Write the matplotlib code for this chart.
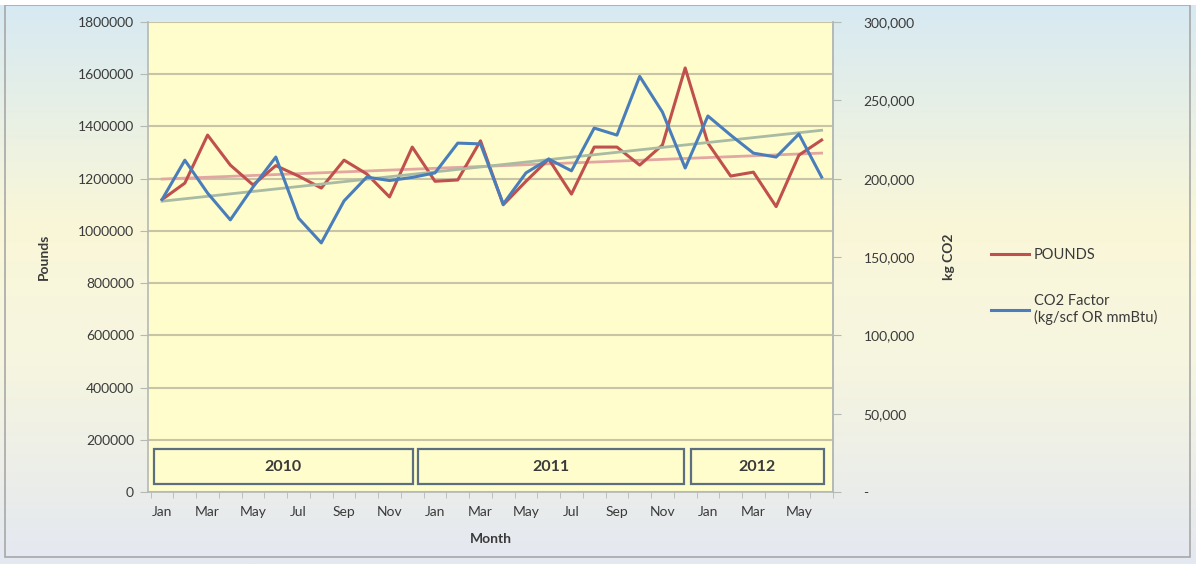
import numpy as np
import matplotlib
matplotlib.use('Agg')
import matplotlib.pyplot as plt
from matplotlib.patches import Rectangle
from matplotlib.colors import LinearSegmentedColormap
from matplotlib.lines import Line2D
from matplotlib.ticker import FuncFormatter

plt.rcParams['font.family'] = ['Lato', 'DejaVu Sans']

# ---- data ----
months = ['Jan', 'Feb', 'Mar', 'Apr', 'May', 'Jun', 'Jul', 'Aug', 'Sep', 'Oct', 'Nov', 'Dec',
          'Jan', 'Feb', 'Mar', 'Apr', 'May', 'Jun', 'Jul', 'Aug', 'Sep', 'Oct', 'Nov', 'Dec',
          'Jan', 'Feb', 'Mar', 'Apr', 'May', 'Jun']
years = ['2010', '2011', '2012']
pounds = [1120000, 1183000, 1367000, 1252000, 1176000, 1250000, 1210000, 1164000, 1271000, 1218000,
          1130000, 1321000, 1190000, 1195000, 1345000, 1100000, 1190000, 1275000, 1141000, 1321000,
          1321000, 1252000, 1329000, 1624000, 1336000, 1210000, 1225000, 1093000, 1290000, 1348000]
co2 = [186700, 211800, 190800, 173700, 194700, 213800, 174800, 159000, 185800, 201000,
       198800, 200800, 203700, 222700, 222200, 183800, 203700, 212500, 205000, 232300,
       227800, 265300, 242500, 206800, 240000, 227800, 216300, 213800, 228500, 201000]

C = {'red': '#C0504D', 'blue': '#4A7EBB', 'red_tr': '#E3A7A3', 'blue_tr': '#A9BBA2',
     'plot': '#FFFDCC', 'grid': '#C8C4A6', 'tx': '#3A3A3A', 'box': '#5C6F80'}

x = np.arange(len(months))

fig = plt.figure(figsize=(11.96, 5.64), dpi=100)

# background gradient
bg = fig.add_axes([0, 0, 1, 1], zorder=-10)
cmap = LinearSegmentedColormap.from_list('bg', [(0, '#E4E8F1'), (0.35, '#F6F5E0'),
                                                (0.6, '#FAF7D8'), (1.0, '#D6E9F3')])
bg.imshow(np.linspace(0, 1, 256).reshape(-1, 1), aspect='auto', cmap=cmap,
          extent=[0, 1, 0, 1], origin='lower')
bg.add_patch(Rectangle((5 / 1196, 1 - 557 / 564), 1185 / 1196, 552 / 564, fill=False,
                       edgecolor='#A8A8A8', lw=1.2))
bg.add_patch(Rectangle((0, 1 - 5 / 564), 1, 5 / 564, facecolor='white', edgecolor='none'))
bg.set_xlim(0, 1); bg.set_ylim(0, 1); bg.axis('off')

ax = fig.add_axes([148 / 1196, 1 - 492 / 564, 685 / 1196, 470 / 564])
ax.set_facecolor(C['plot'])
ax.set_xlim(-0.62, 29.35)
ax.set_ylim(0, 1800000)
ax.set_yticks(np.arange(0, 1800001, 200000))
ax.yaxis.set_major_formatter(FuncFormatter(lambda v, p: f'{int(v)}'))
ax.grid(axis='y', color=C['grid'], lw=1.5)
ax.set_axisbelow(True)
ax.spines['top'].set_visible(False)
for s in ['left', 'bottom', 'right']:
    ax.spines[s].set_color('#B4B9B4')
    ax.spines[s].set_linewidth(1.2)

ax2 = ax.twinx()
ax2.set_ylim(0, 300000)
ax2.set_yticks(np.arange(0, 300001, 50000))
ax2.yaxis.set_major_formatter(FuncFormatter(lambda v, p: '-' if v == 0 else f'{int(v):,}'))
ax2.spines['top'].set_visible(False)
ax2.spines['right'].set_color('#B4B9B4')
ax2.spines['right'].set_linewidth(1.2)
ax2.spines['left'].set_visible(False)
ax2.spines['bottom'].set_visible(False)

# linear trend lines
p1 = np.polyfit(x, pounds, 1)
p2 = np.polyfit(x, co2, 1)
ax.plot(x, np.polyval(p1, x), color=C['red_tr'], lw=2.0, zorder=2)
ax2.plot(x, np.polyval(p2, x), color=C['blue_tr'], lw=2.0, zorder=2)

ax.plot(x, pounds, color=C['red'], lw=2.2, zorder=3)
ax2.plot(x, co2, color=C['blue'], lw=2.2, zorder=4)

# x ticks
ax.set_xticks(x[::2])
ax.set_xticklabels(months[::2])
ax.set_xticks(np.arange(-0.5, 29.6, 1), minor=True)
ax.tick_params(axis='x', which='major', length=0, pad=10, labelsize=10, colors=C['tx'])
ax.tick_params(axis='x', which='minor', length=4, color='#B4B9B4')
ax.tick_params(axis='y', length=6, color='#B4B9B4', labelsize=10, labelcolor=C['tx'], pad=4)
ax2.tick_params(axis='y', length=6, color='#B4B9B4', labelsize=10, labelcolor=C['tx'], pad=16)

ax.set_xlabel('Month', fontsize=10, weight='bold', color=C['tx'], labelpad=11)
ax.set_ylabel('Pounds', fontsize=10, weight='bold', color=C['tx'], labelpad=20)
ax2.set_ylabel('kg CO2', fontsize=10, weight='bold', color=C['tx'], labelpad=20)

# year boxes
spans = [(-0.35, 11.02), (11.24, 22.97), (23.27, 29.09)]
for (a, b), yr in zip(spans, years):
    ax.add_patch(Rectangle((a, 30600), b - a, 134000, facecolor=C['plot'],
                           edgecolor=C['box'], lw=1.6, zorder=5))
    ax.text((a + b) / 2, 97600, yr, ha='center', va='center', fontsize=11.5,
            weight='bold', color=C['tx'], zorder=6)

handles = [Line2D([], [], color=C['red'], lw=2.2), Line2D([], [], color=C['blue'], lw=2.2)]
fig.legend(handles, ['POUNDS', 'CO2 Factor\n(kg/scf OR mmBtu)'], loc='upper left',
           bbox_to_anchor=(0.818, 0.584), frameon=False, fontsize=10.5, handlelength=2.6,
           handletextpad=0.3, labelspacing=2.2, labelcolor=C['tx'])

fig.savefig('out.png', dpi=100, facecolor='white')
